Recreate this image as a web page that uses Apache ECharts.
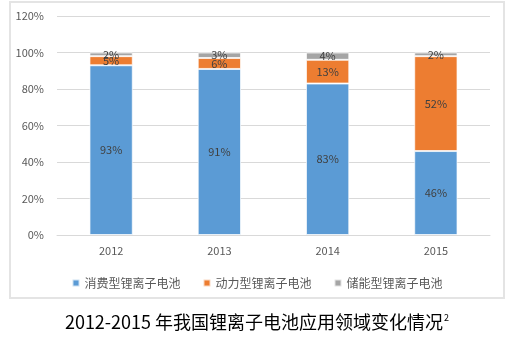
<!DOCTYPE html>
<html>
<head>
<meta charset="utf-8">
<script src="https://cdn.jsdelivr.net/npm/echarts@6/dist/echarts.min.js"></script>
<style>
html,body{margin:0;padding:0;background:#fff;}
#chart{width:514px;height:337px;}
</style>
</head>
<body>
<div id="chart"></div>
<script>
// Categories and shares (percent) of lithium-ion battery applications
const years = ['2012', '2013', '2014', '2015'];
const consumer = [93, 91, 83, 46];
const power = [5, 6, 13, 52];
const storage = [2, 3, 4, 2];
const seriesNames = ['消费型锂离子电池', '动力型锂离子电池', '储能型锂离子电池'];
const yTicks = [0, 20, 40, 60, 80, 100, 120];

const font = '"Noto Sans CJK SC", "Microsoft YaHei", sans-serif';
const colors = ['#5B9BD5', '#ED7D31', '#A5A5A5'];

const chart = echarts.init(document.getElementById('chart'), null, { renderer: 'canvas' });

function barSeries(name, data, color) {
  return {
    name: name,
    type: 'bar',
    stack: 'total',
    barWidth: '40%',
    data: data,
    itemStyle: { color: color, borderColor: 'rgba(255,255,255,0.7)', borderWidth: 1 },
    label: {
      show: true,
      position: 'inside',
      formatter: '{c}%',
      color: '#404040',
      fontSize: 11,
      fontFamily: font
    }
  };
}

chart.setOption({
  animation: false,
  color: colors,
  graphic: [
    {
      type: 'rect',
      shape: { x: 10, y: 2, width: 494, height: 296 },
      style: { fill: 'none', stroke: '#E4E4E4', lineWidth: 2 },
      silent: true
    }
  ],
  title: {
    text: '{t|2012-2015 年我国锂离子电池应用领域变化情况}{s|2}',
    left: 'center',
    top: 308,
    textStyle: {
      fontWeight: 'normal',
      rich: {
        t: { fontSize: 18, color: '#000', fontFamily: font, fontWeight: 'normal' },
        s: { fontSize: 9, color: '#000', fontFamily: font, fontWeight: 'normal', verticalAlign: 'top', padding: [0, 0, 9, 1] }
      }
    }
  },
  legend: {
    data: seriesNames,
    top: 272,
    left: 'center',
    icon: 'rect',
    itemWidth: 7,
    itemHeight: 7,
    itemGap: 22,
    textStyle: { color: '#595959', fontSize: 12, fontFamily: font }
  },
  grid: { left: 57, right: 24, top: 16, bottom: 102, containLabel: false },
  xAxis: {
    type: 'category',
    data: years,
    axisLine: { lineStyle: { color: '#D9D9D9' } },
    axisTick: { show: false },
    axisLabel: { color: '#595959', fontSize: 11, fontFamily: font, margin: 10 }
  },
  yAxis: {
    type: 'value',
    min: yTicks[0],
    max: yTicks[yTicks.length - 1],
    interval: 20,
    axisLine: { show: false },
    axisTick: { show: false },
    splitLine: { lineStyle: { color: '#D9D9D9' } },
    axisLabel: { color: '#595959', fontSize: 11, fontFamily: font, formatter: '{value}%', margin: 13 }
  },
  series: [
    barSeries(seriesNames[0], consumer, colors[0]),
    barSeries(seriesNames[1], power, colors[1]),
    barSeries(seriesNames[2], storage, colors[2])
  ]
});
</script>
</body>
</html>
